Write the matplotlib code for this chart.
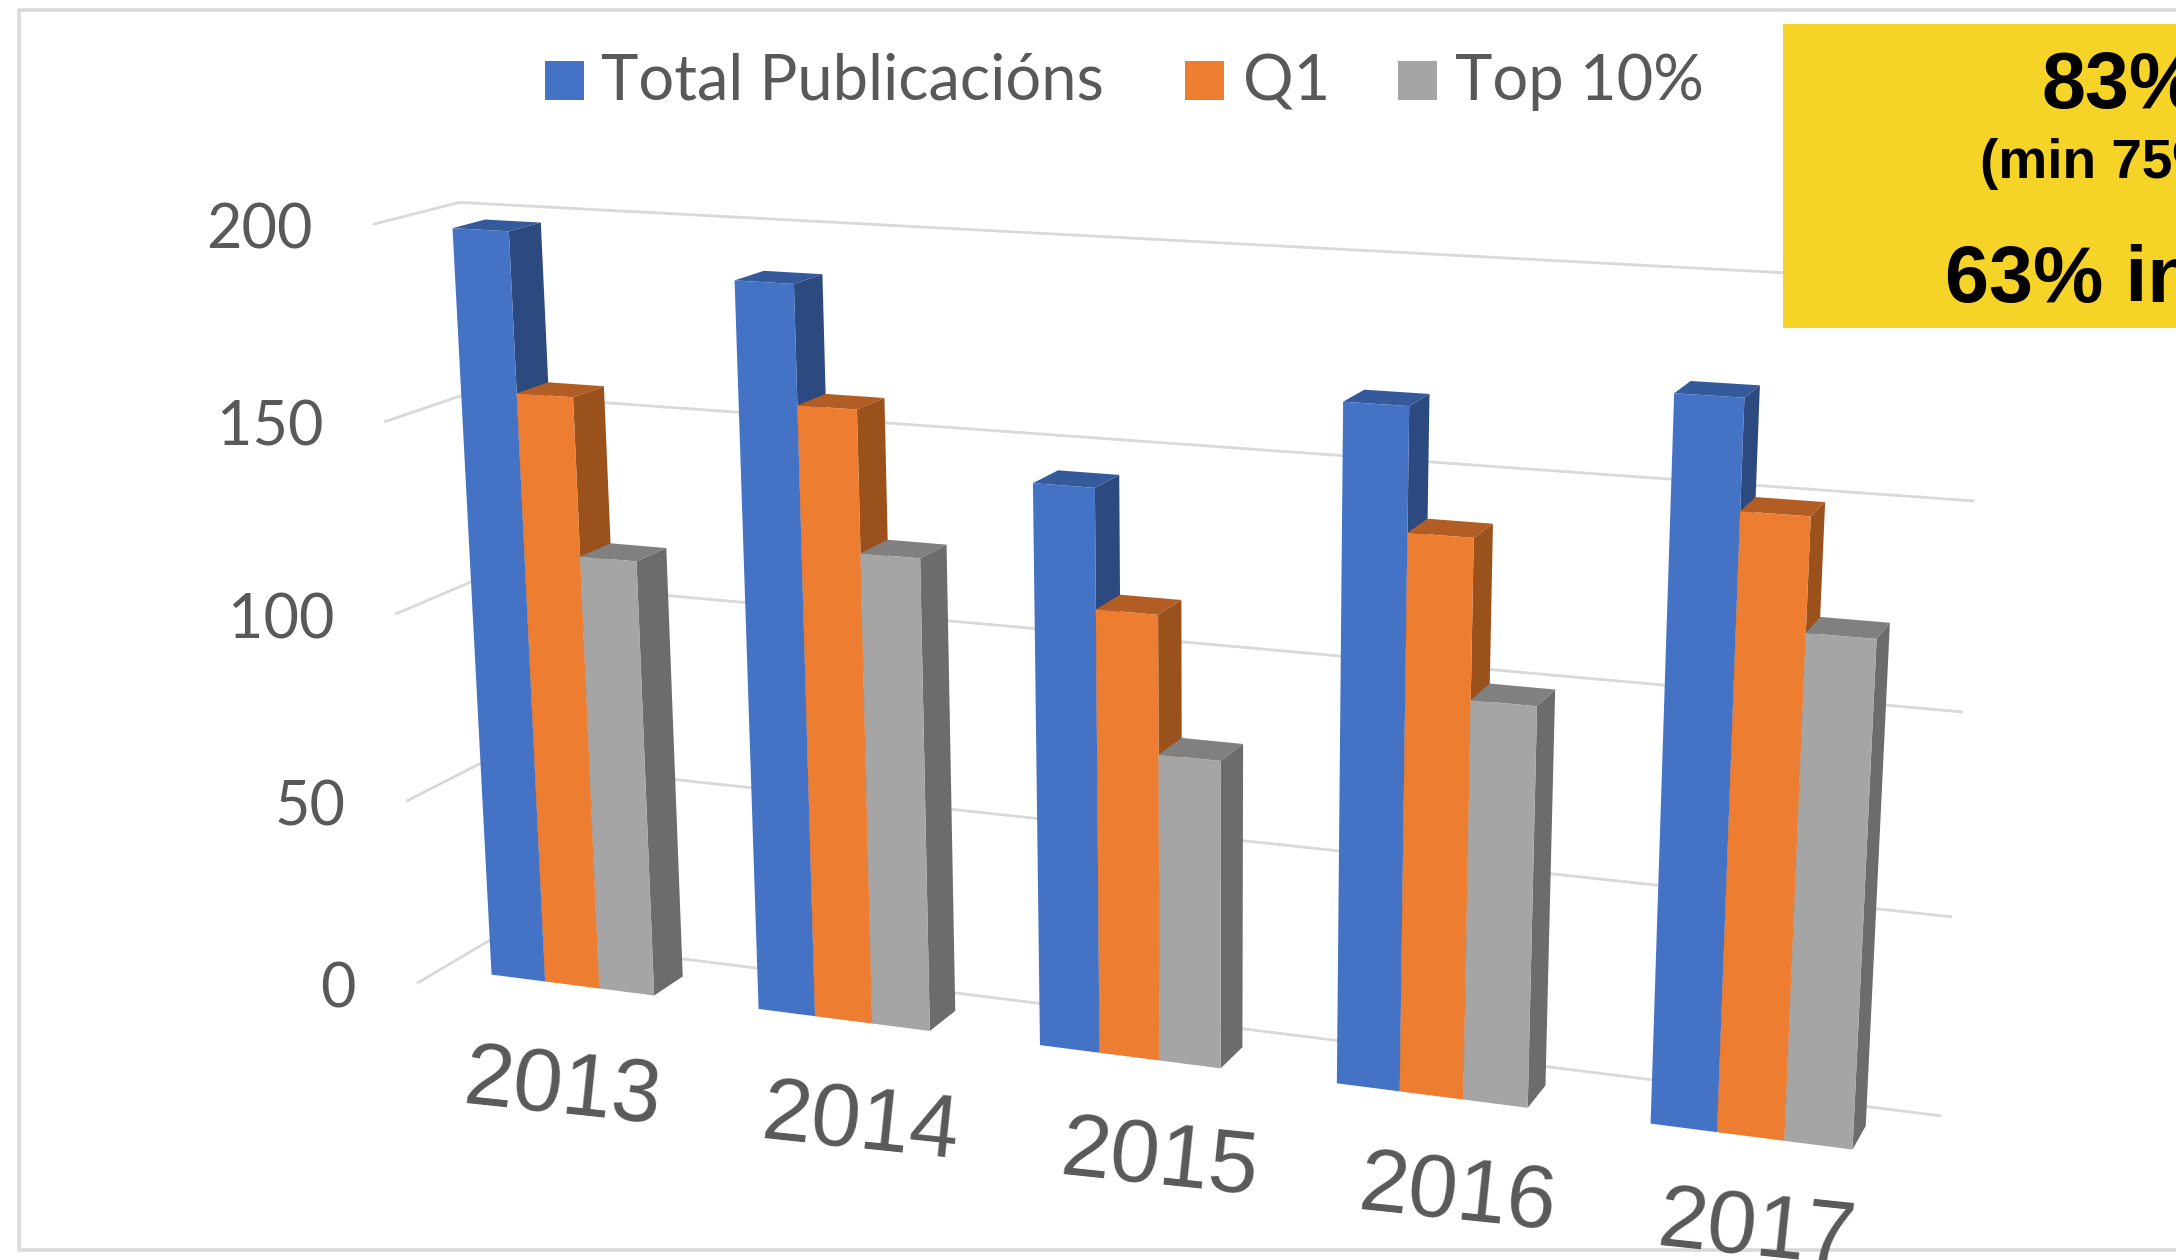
import numpy as np
import matplotlib
matplotlib.use("Agg")
import matplotlib.pyplot as plt
from matplotlib.patches import Polygon, Rectangle

years = ["2013", "2014", "2015", "2016", "2017"]
total = [198, 189, 144, 169, 176]
q1 = [157, 159, 114, 139, 150]
top10 = [116, 123, 79, 100, 123]
ticks = [0, 50, 100, 150, 200]
series = ["Total Publicacións", "Q1", "Top 10%"]

front_cols = ["#4472C4", "#ED7D31", "#A5A5A5"]
side_cols = ["#2C4A80", "#9B511C", "#6C6C6C"]
top_cols = ["#355A9C", "#B25D24", "#808080"]
grid_col = "#D9D9D9"
text_col = "#595959"

# bar layout in chart units (x = category, z = 0 back wall, 1 front of side wall)
bar_start, bar_span = 0.19, 0.615
z_back, z_front = 0.31, 0.70

# camera fit: (x, value, z) -> picture pixel
anchors = [
    (0, 0, 0, 497, 936), (5, 0, 0, 1939, 1117), (0, 200, 0, 459, 202), (5, 200, 0, 1985, 282),
    (5, 50, 0, 1949, 918), (5, 100, 0, 1961, 713), (5, 150, 0, 1972, 500),
    (0, 0, 1, 417, 982), (0, 50, 1, 407, 802), (0, 100, 1, 396, 613), (0, 150, 1, 386, 422), (0, 200, 1, 375, 225),
    (0.19, 0, 0.7, 490, 974), (0.805, 0, 0.7, 655, 995), (1.19, 0, 0.7, 758, 1009), (1.805, 0, 0.7, 932, 1030),
    (2.19, 0, 0.7, 1039, 1046), (2.805, 0, 0.7, 1222, 1068), (3.19, 0, 0.7, 1335, 1083), (3.805, 0, 0.7, 1528, 1108),
    (4.19, 0, 0.7, 1648, 1124), (4.805, 0, 0.7, 1855, 1149),
    (0.805, 0, 0.31, 684, 977), (1.805, 0, 0.31, 957, 1011), (2.805, 0, 0.31, 1243, 1046),
    (3.805, 0, 0.31, 1545, 1085), (4.805, 0, 0.31, 1867, 1126),
]


def fit_camera(rows):
    a = []
    for x, v, z, px, py in rows:
        w = [x / 5, v / 200, z, 1]
        px, py = px / 1000, py / 1000
        a.append(w + [0, 0, 0, 0] + [-px * c for c in w])
        a.append([0, 0, 0, 0] + w + [-py * c for c in w])
    return np.linalg.svd(np.array(a))[2][-1].reshape(3, 4)


cam = fit_camera(anchors)


def project(x, v, z):
    p = cam @ np.array([x / 5, v / 200, z, 1])
    return p[0] / p[2] * 1000, p[1] / p[2] * 1000


fig = plt.figure(figsize=(21.76, 12.6), dpi=100)
ax = fig.add_axes([0, 0, 1, 1])
ax.set_xlim(0, 2176)
ax.set_ylim(1260, 0)
ax.axis("off")

# frame
ax.plot([2176, 19, 19, 2176], [10, 10, 1250, 1250], color=grid_col, lw=2.6, zorder=1)

# gridlines
for t in ticks:
    a = project(0, t, 1)
    b = project(0, t, 0)
    c = project(5, t, 0)
    ax.plot([a[0], b[0], c[0]], [a[1], b[1], c[1]], color=grid_col, lw=2, zorder=1)
    ax.text(a[0] - 62, a[1] + 7, str(t), ha="right", va="center", fontsize=44,
            family="Lato", color=text_col)

# bars, left to right so each one covers the side of the one before
order = 2
for k in range(len(years)):
    vals = [total[k], q1[k], top10[k]]
    for i, v in enumerate(vals):
        x0 = k + bar_start + i * bar_span / 3
        x1 = x0 + bar_span / 3
        front = [project(x0, 0, z_front), project(x1, 0, z_front), project(x1, v, z_front), project(x0, v, z_front)]
        side = [project(x1, 0, z_front), project(x1, 0, z_back), project(x1, v, z_back), project(x1, v, z_front)]
        top = [project(x0, v, z_front), project(x1, v, z_front), project(x1, v, z_back), project(x0, v, z_back)]
        ax.add_patch(Polygon(top, facecolor=top_cols[i], edgecolor="none", zorder=order))
        ax.add_patch(Polygon(side, facecolor=side_cols[i], edgecolor="none", zorder=order))
        ax.add_patch(Polygon(front, facecolor=front_cols[i], edgecolor="none", zorder=order))
        order += 1

# year labels
for k, y in enumerate(years):
    ax.text(562 + 298.5 * k, 1090 + 35.5 * k, y, rotation=-6, rotation_mode="anchor", ha="center", va="center",
            fontsize=64, family="Liberation Sans", color=text_col, zorder=50)

# legend
swatch_x = [545, 1185, 1398]
label_x = [601, 1243, 1455]
for i, s in enumerate(series):
    ax.add_patch(Rectangle((swatch_x[i], 61), 39, 39, facecolor=front_cols[i], edgecolor="none", zorder=60))
    ax.text(label_x[i], 100, s, ha="left", va="baseline", fontsize=45.5, family="Lato", color=text_col, zorder=60)

# yellow note, cut by the picture edge
ax.add_patch(Rectangle((1783, 24), 400, 304, facecolor="#F6D327", edgecolor="none", zorder=70))
ax.text(2041, 108, "83%", ha="left", va="baseline", fontsize=57, family="Liberation Sans", fontweight="bold", color="black", zorder=71)
ax.text(1980, 178, "(min 75%", ha="left", va="baseline", fontsize=39.6, family="Liberation Sans", fontweight="bold", color="black", zorder=71)
ax.text(1945, 302, "63% in", ha="left", va="baseline", fontsize=57, family="Liberation Sans", fontweight="bold", color="black", zorder=71)

fig.savefig("out.png", dpi=100, facecolor="white")
